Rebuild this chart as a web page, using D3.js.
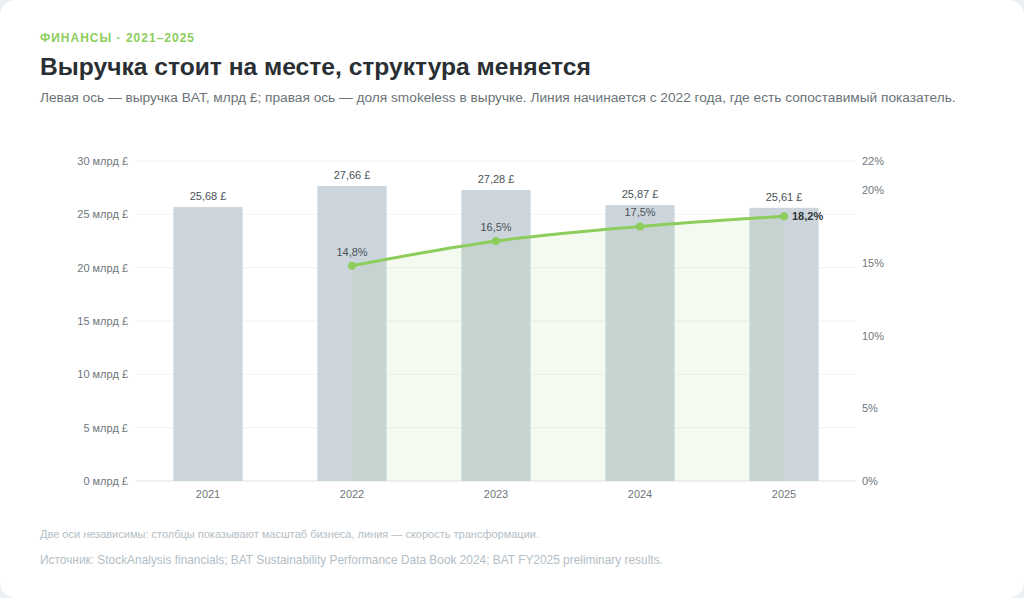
<!DOCTYPE html>
<html>
  <head>
    <meta charset="utf-8">
    <title>Выручка BAT и доля smokeless</title>
    <script src="https://cdn.jsdelivr.net/npm/d3@7"></script>
    <style>
      html, body {
        margin: 0;
        padding: 0;
        background: #eef1f4;
      }
      .card {
        width: 1024px;
        height: 598px;
        background: #fff;
        border-radius: 16px;
        overflow: hidden;
      }
      svg text {
        font-family: "Liberation Sans", Arial, sans-serif;
      }
    </style>
  </head>
  <body>
    <div class="card"><svg width="1024" height="598"></svg></div>

    <script>
      // data
      var years = ["2021", "2022", "2023", "2024", "2025"];
      var revenue = [25.68, 27.66, 27.28, 25.87, 25.61];
      var smokeless = [null, 14.8, 16.5, 17.5, 18.2];
      var leftTicks = [0, 5, 10, 15, 20, 25, 30];
      var rightTicks = [0, 5, 10, 15, 20, 22];

      var svg = d3.select("svg");

      // header text
      svg.append("text").attr("x", 40).attr("y", 42)
        .attr("fill", "#8ccd5c").attr("font-size", 12).attr("font-weight", "bold")
        .attr("letter-spacing", "1px")
        .text("ФИНАНСЫ · 2021–2025");
      svg.append("text").attr("x", 40).attr("y", 75)
        .attr("fill", "#2a2f33").attr("font-size", 24.6).attr("font-weight", "bold")
        .text("Выручка стоит на месте, структура меняется");
      svg.append("text").attr("x", 40).attr("y", 102)
        .attr("fill", "#6a7378").attr("font-size", 13.7)
        .text("Левая ось — выручка BAT, млрд £; правая ось — доля smokeless в выручке. Линия начинается с 2022 года, где есть сопоставимый показатель.");

      // plot frame
      var plotL = 136, plotR = 856, plotT = 161, plotB = 481;

      var x = d3.scaleBand().domain(years).range([plotL, plotR]).padding(0);
      var y = d3.scaleLinear().domain([0, 30]).range([plotB, plotT]);
      var y2 = d3.scaleLinear().domain([0, 22]).range([plotB, plotT]);
      var barW = x.bandwidth() * 0.48;
      var cx = function (d) { return x(d) + x.bandwidth() / 2; };

      // grid
      svg.append("g").selectAll("line").data(leftTicks).enter().append("line")
        .attr("x1", plotL).attr("x2", plotR)
        .attr("y1", function (d) { return y(d); })
        .attr("y2", function (d) { return y(d); })
        .attr("stroke", function (d) { return d === 0 ? "#dfe5e8" : "#eef1f3"; })
        .attr("stroke-width", 1);

      // axes, styled grey without ticks or domain
      function styleAxis(g) {
        g.attr("color", "#6f777d");
        g.select(".domain").remove();
        g.selectAll("text").attr("font-size", 11)
          .style("font-family", "'Liberation Sans', Arial, sans-serif");
      }

      svg.append("g").attr("transform", "translate(" + plotL + ",0)")
        .call(d3.axisLeft(y).tickValues(leftTicks).tickSize(0).tickPadding(8)
          .tickFormat(function (d) { return d + " млрд £"; }))
        .call(styleAxis);

      svg.append("g").attr("transform", "translate(" + (plotR + 6) + ",0)")
        .call(d3.axisRight(y2).tickValues(rightTicks).tickSize(0).tickPadding(0)
          .tickFormat(function (d) { return d + "%"; }))
        .call(styleAxis);

      svg.append("g").attr("transform", "translate(0," + plotB + ")")
        .call(d3.axisBottom(x).tickSize(0).tickPadding(9))
        .call(styleAxis);

      // bars
      svg.append("g").selectAll("rect").data(years).enter().append("rect")
        .attr("x", function (d) { return cx(d) - barW / 2; })
        .attr("y", function (d, i) { return y(revenue[i]); })
        .attr("width", barW)
        .attr("height", function (d, i) { return plotB - y(revenue[i]); })
        .attr("fill", "#cdd5dc");

      svg.append("g").selectAll("text").data(years).enter().append("text")
        .attr("x", function (d) { return cx(d); })
        .attr("y", function (d, i) { return y(revenue[i]) - 7; })
        .attr("text-anchor", "middle")
        .attr("fill", "#4a5257").attr("font-size", 11)
        .text(function (d, i) { return revenue[i].toFixed(2).replace(".", ",") + " £"; });

      // line + area
      var pts = years.map(function (d, i) { return { year: d, v: smokeless[i] }; })
        .filter(function (d) { return d.v !== null; });

      var area = d3.area().curve(d3.curveMonotoneX)
        .x(function (d) { return cx(d.year); })
        .y0(plotB)
        .y1(function (d) { return y2(d.v); });
      var line = d3.line().curve(d3.curveMonotoneX)
        .x(function (d) { return cx(d.year); })
        .y(function (d) { return y2(d.v); });

      svg.append("path").datum(pts).attr("d", area)
        .attr("fill", "#8ccd5c").attr("fill-opacity", 0.09);
      svg.append("path").datum(pts).attr("d", line)
        .attr("fill", "none").attr("stroke", "#8ccd5c").attr("stroke-width", 3)
        .attr("stroke-linecap", "round");

      svg.append("g").selectAll("circle").data(pts).enter().append("circle")
        .attr("cx", function (d) { return cx(d.year); })
        .attr("cy", function (d) { return y2(d.v); })
        .attr("r", 4).attr("fill", "#8ccd5c");

      var last = pts.length - 1;
      svg.append("g").selectAll("text").data(pts).enter().append("text")
        .attr("x", function (d, i) { return i === last ? cx(d.year) + 8 : cx(d.year); })
        .attr("y", function (d, i) { return i === last ? y2(d.v) + 4 : y2(d.v) - 10; })
        .attr("text-anchor", function (d, i) { return i === last ? "start" : "middle"; })
        .attr("font-weight", function (d, i) { return i === last ? "bold" : "normal"; })
        .attr("fill", function (d, i) { return i === last ? "#2f3539" : "#4a5257"; })
        .attr("font-size", 11)
        .text(function (d) { return d.v.toFixed(1).replace(".", ",") + "%"; });

      // footer
      svg.append("text").attr("x", 40).attr("y", 538)
        .attr("fill", "#b3bec6").attr("font-size", 11)
        .text("Две оси независимы: столбцы показывают масштаб бизнеса, линия — скорость трансформации.");
      svg.append("text").attr("x", 40).attr("y", 564)
        .attr("fill", "#b3bec6").attr("font-size", 11.9)
        .text("Источник: StockAnalysis financials; BAT Sustainability Performance Data Book 2024; BAT FY2025 preliminary results.");
    </script>
  </body>
</html>
